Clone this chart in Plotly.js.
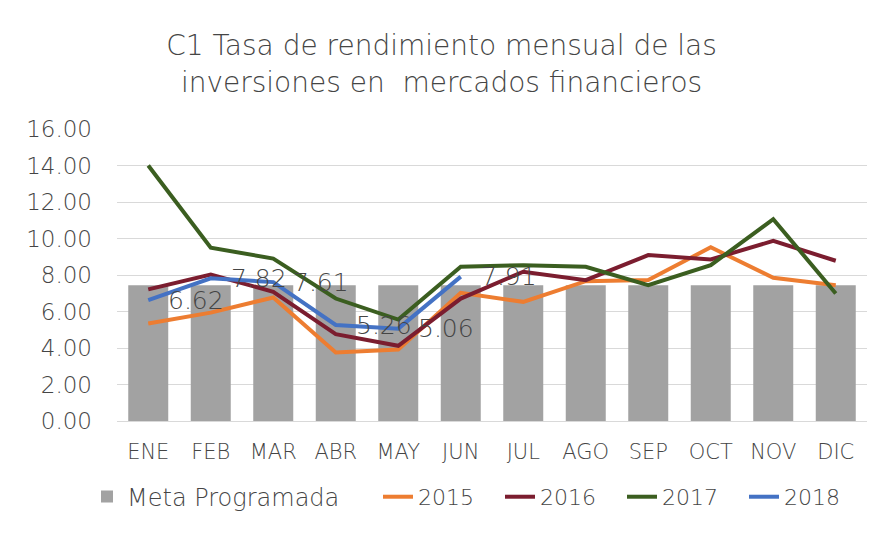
<!DOCTYPE html>
<html>
<head>
<meta charset="utf-8">
<script src="https://cdn.plot.ly/plotly-3.0.1.min.js"></script>
<style>html,body{margin:0;padding:0;background:#fff;}#chart{width:883px;height:536px;}</style>
</head>
<body>
<div id="chart"></div>
<script>
const months = ["ENE","FEB","MAR","ABR","MAY","JUN","JUL","AGO","SEP","OCT","NOV","DIC"];
const meta = [7.44,7.44,7.44,7.44,7.44,7.44,7.44,7.44,7.44,7.44,7.44,7.44];
const y2015 = [5.34,5.94,6.77,3.75,3.92,7.02,6.53,7.66,7.72,9.52,7.85,7.44];
const y2016 = [7.21,8.03,7.08,4.76,4.12,6.71,8.18,7.72,9.09,8.85,9.87,8.78];
const y2017 = [14.0,9.5,8.9,6.71,5.56,8.45,8.54,8.45,7.44,8.54,11.06,6.99];
const y2018 = [6.62,7.82,7.61,5.26,5.06,7.91];
const yTicks = [0,2,4,6,8,10,12,14,16];

const FONT = "'DejaVu Sans', sans-serif";
const W = 200;
const GRAY = "#454545";

const traces = [
  {type:"bar", name:"Meta Programada", x:months, y:meta, width:0.64,
   marker:{color:"#a2a2a2", line:{width:0}}, legend:"legend"},
  {type:"scatter", mode:"lines", name:"2015", x:months, y:y2015, line:{color:"#ED7D31", width:4}, legend:"legend2"},
  {type:"scatter", mode:"lines", name:"2016", x:months, y:y2016, line:{color:"#7B1D2F", width:4}, legend:"legend2"},
  {type:"scatter", mode:"lines", name:"2017", x:months, y:y2017, line:{color:"#3B5E20", width:4}, legend:"legend2"},
  {type:"scatter", mode:"lines", name:"2018", x:months.slice(0,y2018.length), y:y2018, line:{color:"#4472C4", width:4}, legend:"legend2"}
];

const annotations = y2018.map((v,i)=>({
  x: months[i], y: v, xref:"x", yref:"y", text: v.toFixed(2), showarrow:false,
  xanchor:"left", yanchor:"middle", xshift:18,
  font:{family:FONT, size:25, color:GRAY, weight:W}
}));

const layout = {
  width:883, height:536,
  margin:{l:117, r:16, t:129, b:115},
  paper_bgcolor:"#fff", plot_bgcolor:"#fff",
  title:{text:"C1 Tasa de rendimiento mensual de las<br>inversiones en  mercados financieros",
         x:0.5, xanchor:"center", y:0.897, yanchor:"middle",
         font:{family:FONT, size:28, color:GRAY, weight:W}},
  barmode:"overlay",
  xaxis:{type:"category", tickfont:{family:FONT, size:21, color:GRAY, weight:W},
         showgrid:false, showline:true, linecolor:"#d9d9d9", linewidth:1, ticks:"",
         ticklabelstandoff:12, automargin:false},
  yaxis:{range:[0,16], tickvals:yTicks, ticktext:yTicks.map(v=>v.toFixed(2)),
         tickfont:{family:FONT, size:23, color:GRAY, weight:W}, gridcolor:"#d9d9d9", gridwidth:1,
         zeroline:false, showline:false, ticks:"", ticklabelstandoff:24, automargin:false},
  showlegend:true,
  legend:{orientation:"h", x:-0.04, xanchor:"left", y:-0.26, yanchor:"middle",
          font:{family:FONT, size:24, color:GRAY, weight:W}, bgcolor:"rgba(0,0,0,0)"},
  legend2:{orientation:"h", x:0.348, xanchor:"left", y:-0.26, yanchor:"middle",
          font:{family:FONT, size:22, color:GRAY, weight:W}, bgcolor:"rgba(0,0,0,0)",
          entrywidth:77, entrywidthmode:"pixels", traceorder:"normal"},
  annotations: annotations
};

Plotly.newPlot("chart", traces, layout, {staticPlot:true, displayModeBar:false});
</script>
</body>
</html>
